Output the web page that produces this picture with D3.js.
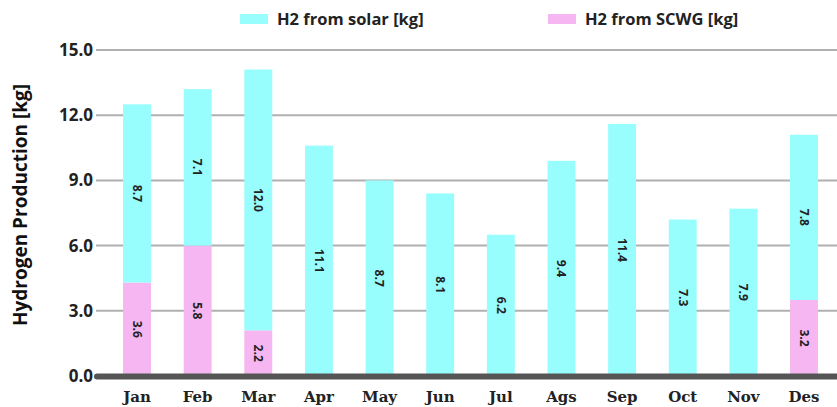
<!DOCTYPE html>
<html>
<head>
<meta charset="utf-8">
<script src="https://cdn.jsdelivr.net/npm/d3@7"></script>
<style>
  body { margin: 0; background: #fff; }
  svg { display: block; }
</style>
</head>
<body>
<div id="chart"></div>
<script>
// months along the x axis
var months = ["Jan", "Feb", "Mar", "Apr", "May", "Jun", "Jul", "Ags", "Sep", "Oct", "Nov", "Des"];

// bar heights
var scwg  = [4.3, 6.0, 2.1, 0, 0, 0, 0, 0, 0, 0, 0, 3.5];
var solar = [8.2, 7.2, 12.0, 10.6, 9.0, 8.4, 6.5, 9.9, 11.6, 7.2, 7.7, 7.6];

// value labels printed on the bars
var scwgLabels  = ["3.6", "5.8", "2.2", "", "", "", "", "", "", "", "", "3.2"];
var solarLabels = ["8.7", "7.1", "12.0", "11.1", "8.7", "8.1", "6.2", "9.4", "11.4", "7.3", "7.9", "7.8"];

var yTicks = [0, 3, 6, 9, 12, 15];
var seriesNames = ["H2 from solar [kg]", "H2 from SCWG [kg]"];

var colSolar = "#97fdfd", colScwg = "#f5b6f1";

var W = 837, H = 407;
var svg = d3.select("#chart").append("svg")
    .attr("width", W)
    .attr("height", H);

// scales
var x = d3.scaleBand().domain(months).range([106.7, 834.3]).paddingInner(0.54).paddingOuter(0.27);
var y = d3.scaleLinear().domain([0, 15]).range([376, 50]);

// gridlines
svg.append("g")
  .selectAll("line")
  .data(yTicks.filter(function(d) { return d > 0; }))
  .enter().append("line")
    .attr("x1", 96).attr("x2", W)
    .attr("y1", function(d) { return y(d); })
    .attr("y2", function(d) { return y(d); })
    .attr("stroke", "#b0b0b0")
    .attr("stroke-width", 2);

// y axis tick labels
var yAxis = d3.axisLeft(y).tickValues(yTicks).tickSize(0).tickPadding(0)
    .tickFormat(d3.format(".1f"));
var gy = svg.append("g").attr("transform", "translate(93,0)").call(yAxis);
gy.select(".domain").remove();
gy.selectAll("text")
    .attr("font-family", "'Open Sans', sans-serif")
    .attr("font-weight", "bold")
    .attr("font-size", 17)
    .attr("fill", "#222");

// bars
var stackData = months.map(function(m, i) {
  return { month: m, scwg: scwg[i], solar: solar[i], scwgLabel: scwgLabels[i], solarLabel: solarLabels[i] };
});

var bars = svg.append("g");
bars.selectAll(".scwg")
  .data(stackData)
  .enter().append("rect")
    .attr("class", "scwg")
    .attr("x", function(d) { return x(d.month); })
    .attr("width", x.bandwidth())
    .attr("y", function(d) { return y(d.scwg); })
    .attr("height", function(d) { return y(0) - y(d.scwg); })
    .attr("fill", colScwg);

bars.selectAll(".solar")
  .data(stackData)
  .enter().append("rect")
    .attr("class", "solar")
    .attr("x", function(d) { return x(d.month); })
    .attr("width", x.bandwidth())
    .attr("y", function(d) { return y(d.scwg + d.solar); })
    .attr("height", function(d) { return y(d.scwg) - y(d.scwg + d.solar); })
    .attr("fill", colSolar);

// value labels, rotated
function addLabels(lo, hi, txt) {
  svg.append("g").selectAll("text")
    .data(stackData.filter(function(d) { return txt(d) !== ""; }))
    .enter().append("text")
      .attr("transform", function(d) {
        var cx = x(d.month) + x.bandwidth() / 2;
        var cy = (y(lo(d)) + y(hi(d))) / 2;
        return "translate(" + cx + "," + cy + ") rotate(90)";
      })
      .attr("text-anchor", "middle")
      .attr("dy", "0.35em")
      .attr("font-family", "'Open Sans', sans-serif")
      .attr("font-weight", "bold")
      .attr("font-size", 12)
      .attr("fill", "#222")
      .text(txt);
}
addLabels(function(d) { return 0; }, function(d) { return d.scwg; }, function(d) { return d.scwgLabel; });
addLabels(function(d) { return d.scwg; }, function(d) { return d.scwg + d.solar; }, function(d) { return d.solarLabel; });

// baseline
svg.append("line")
    .attr("x1", 97).attr("x2", W)
    .attr("y1", y(0) + 0.5).attr("y2", y(0) + 0.5)
    .attr("stroke", "#555")
    .attr("stroke-width", 6)
    .attr("stroke-linecap", "round");

// x axis labels
var xAxis = d3.axisBottom(x).tickSize(0).tickPadding(0);
var gx = svg.append("g").attr("transform", "translate(0,391)").call(xAxis);
gx.select(".domain").remove();
gx.selectAll("text")
    .attr("font-family", "'DejaVu Serif', serif")
    .attr("font-weight", "bold")
    .attr("font-size", 15)
    .attr("fill", "#222");

// y axis title
svg.append("text")
    .attr("transform", "translate(27,205) rotate(-90)")
    .attr("text-anchor", "middle")
    .attr("font-family", "'Open Sans', sans-serif")
    .attr("font-weight", "bold")
    .attr("font-size", 19)
    .attr("fill", "#111")
    .text("Hydrogen Production [kg]");

// legend
var legendX = [240, 548];
var legendCol = [colSolar, colScwg];
var legend = svg.append("g").selectAll("g")
  .data(seriesNames)
  .enter().append("g")
    .attr("transform", function(d, i) { return "translate(" + legendX[i] + ",0)"; });
legend.append("rect")
    .attr("x", 0).attr("y", 14)
    .attr("width", 28).attr("height", 10)
    .attr("fill", function(d, i) { return legendCol[i]; });
legend.append("text")
    .attr("x", 37).attr("y", 25)
    .attr("font-family", "'Open Sans', sans-serif")
    .attr("font-weight", "bold")
    .attr("font-size", 16.5)
    .attr("fill", "#222")
    .text(function(d) { return d; });
</script>
</body>
</html>
